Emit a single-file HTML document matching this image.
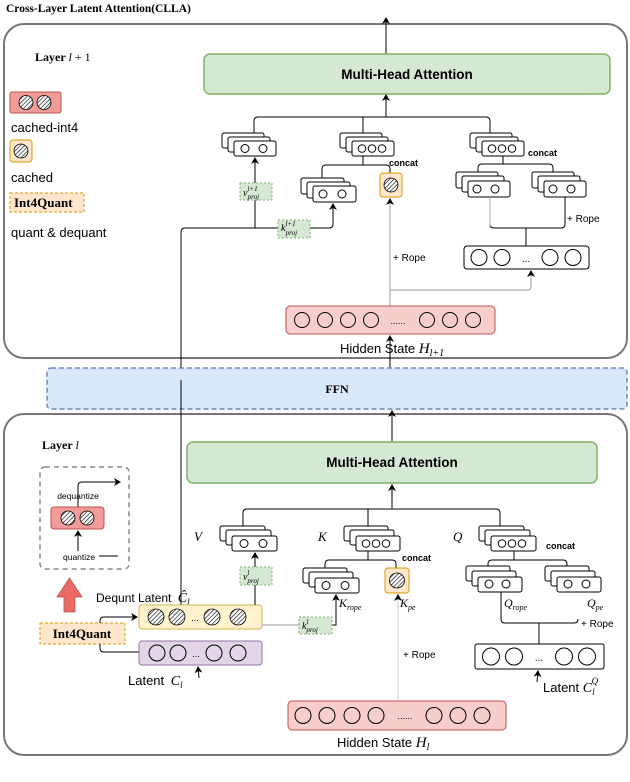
<!DOCTYPE html>
<html><head><meta charset="utf-8"><style>
html,body{margin:0;padding:0;background:#fff;}
svg{display:block;}
text{font-family:"Liberation Sans",sans-serif;}
.serif{font-family:"Liberation Serif",serif;}
</style></head><body>
<svg width="630" height="782" viewBox="0 0 630 782" xmlns="http://www.w3.org/2000/svg">
<defs>
<pattern id="h" width="3" height="3" patternUnits="userSpaceOnUse" patternTransform="rotate(45)"><rect width="3" height="3" fill="#fff"/><line x1="0" y1="0" x2="0" y2="3" stroke="#000" stroke-width="1.2"/></pattern>
<marker id="a" markerWidth="8" markerHeight="8" refX="6" refY="4" orient="auto" markerUnits="userSpaceOnUse"><path d="M0,0 L7,4 L0,8 L2,4z" fill="#000"/></marker>
</defs>

<text x="6" y="12" class="serif" font-size="11.5" font-weight="bold">Cross-Layer Latent Attention(CLLA)</text>

<!-- Top layer box -->
<rect x="4" y="24" width="623" height="334" rx="20" fill="none" stroke="#777" stroke-width="2"/>
<text x="35" y="61" class="serif" font-size="12" font-weight="bold">Layer <tspan font-style="italic" font-weight="normal">l</tspan><tspan font-weight="normal"> + 1</tspan></text>

<line x1="386" y1="54" x2="386" y2="18" stroke="#000" marker-end="url(#a)"/>
<rect x="204" y="54" width="406" height="40" rx="6" fill="#d5e8d4" stroke="#82b366" stroke-width="1.5"/>
<text x="407" y="79" font-size="13.5" font-weight="bold" text-anchor="middle">Multi-Head Attention</text>

<!-- legend -->
<rect x="10" y="92" width="51" height="21" rx="2" fill="#f19c99" stroke="#b85450"/>
<circle cx="26" cy="102.5" r="7" fill="url(#h)" stroke="#000" stroke-width=".8"/>
<circle cx="44" cy="102.5" r="7" fill="url(#h)" stroke="#000" stroke-width=".8"/>
<text x="11" y="132" font-size="13">cached-int4</text>
<rect x="10" y="140" width="22" height="22" rx="3" fill="#ffe6cc" stroke="#d79b00"/>
<circle cx="21" cy="151" r="7" fill="url(#h)" stroke="#000" stroke-width=".8"/>
<text x="11" y="182" font-size="13">cached</text>
<rect x="10" y="193" width="74" height="19" fill="#ffe6cc" stroke="#d79b00" stroke-dasharray="3,2"/>
<text x="14" y="207" class="serif" font-size="13" font-weight="bold">Int4Quant</text>
<text x="11" y="237" font-size="13">quant &amp; dequant</text>

<!-- top bus -->
<path d="M254,133 V121 Q254,117 258,117 H486 Q490,117 490,121 V133" fill="none" stroke="#000"/>
<line x1="363" y1="117" x2="363" y2="133" stroke="#000"/>
<line x1="386" y1="117" x2="386" y2="95" stroke="#000" marker-end="url(#a)"/>

<!-- top V stack -->
<g fill="#fff" stroke="#000">
<rect x="222" y="133" width="42" height="15" rx="2"/><rect x="228" y="137" width="42" height="15" rx="2"/><rect x="234" y="141" width="42" height="15" rx="2"/>
<circle cx="245" cy="148.5" r="4"/><circle cx="263" cy="148.5" r="4"/>
<!-- K -->
<rect x="340" y="133" width="42" height="15" rx="2"/><rect x="346" y="137" width="42" height="15" rx="2"/><rect x="352" y="141" width="42" height="15" rx="2"/>
<circle cx="362" cy="148.5" r="3.8"/><circle cx="372" cy="148.5" r="3.8"/><circle cx="382" cy="148.5" r="3.8"/>
<!-- Q -->
<rect x="470" y="133" width="42" height="15" rx="2"/><rect x="476" y="137" width="42" height="15" rx="2"/><rect x="482" y="141" width="42" height="15" rx="2"/>
<circle cx="492" cy="148.5" r="3.8"/><circle cx="502" cy="148.5" r="3.8"/><circle cx="512" cy="148.5" r="3.8"/>
</g>
<text x="389" y="166" font-size="9" font-weight="bold">concat</text>
<text x="528" y="156" font-size="9" font-weight="bold">concat</text>

<!-- K sub -->
<path d="M322,178 V169 Q322,165 326,165 H386 Q390,165 390,169 V173" fill="none" stroke="#000"/>
<line x1="363" y1="156" x2="363" y2="165" stroke="#000"/>
<g fill="#fff" stroke="#000">
<rect x="301" y="178" width="43" height="16" rx="2"/><rect x="307" y="182" width="43" height="16" rx="2"/><rect x="313" y="186" width="43" height="16" rx="2"/>
<circle cx="323" cy="194" r="4"/><circle cx="342" cy="194" r="4"/>
</g>
<rect x="380" y="173" width="22" height="24" rx="3" fill="#ffe6cc" stroke="#d79b00"/>
<circle cx="391" cy="185" r="7" fill="url(#h)" stroke="#000" stroke-width=".8"/>

<!-- Q sub -->
<path d="M478,172 V168 Q478,164 482,164 H549 Q553,164 553,168 V172" fill="none" stroke="#000"/>
<line x1="503" y1="156" x2="503" y2="164" stroke="#000"/>
<g fill="#fff" stroke="#000">
<rect x="456" y="172" width="42" height="16" rx="2"/><rect x="462" y="176" width="42" height="16" rx="2"/><rect x="468" y="181" width="42" height="16" rx="2"/>
<circle cx="477" cy="189" r="4"/><circle cx="495" cy="189" r="4"/>
<rect x="532" y="172" width="42" height="16" rx="2"/><rect x="538" y="176" width="42" height="16" rx="2"/><rect x="544" y="181" width="42" height="16" rx="2"/>
<circle cx="553" cy="189" r="4"/><circle cx="571" cy="189" r="4"/>
</g>
<path d="M490,197 V224 Q490,228 494,228 H561 Q565,228 565,224 V197" fill="none" stroke="#000"/>
<line x1="490" y1="197" x2="490" y2="228" stroke="#aaa"/>
<line x1="526" y1="228" x2="526" y2="246" stroke="#000"/>
<text x="567" y="222" font-size="10">+ Rope</text>
<rect x="464" y="246" width="125" height="23" rx="3" fill="#fff" stroke="#000"/>
<g fill="none" stroke="#000"><circle cx="479" cy="257.5" r="8"/><circle cx="502" cy="257.5" r="8"/><circle cx="550" cy="257.5" r="8"/><circle cx="573" cy="257.5" r="8"/></g>
<text x="526" y="262" font-size="10" text-anchor="middle">...</text>

<!-- proj lines top -->
<line x1="255" y1="228" x2="255" y2="158" stroke="#000" marker-end="url(#a)"/>
<path d="M181,382 V232 Q181,228 185,228 H329 Q333,228 333,224 V204" fill="none" stroke="#000" marker-end="url(#a)"/>
<rect x="240" y="183" width="32" height="17" fill="#d5e8d4" stroke="#82b366" stroke-dasharray="2,2"/>
<text x="243" y="196" class="serif" font-size="10" font-style="italic">v<tspan font-size="7" dy="-5">l+1</tspan><tspan font-size="7" dy="8" dx="-10">proj</tspan></text>
<rect x="278" y="220" width="32" height="18" fill="#d5e8d4" stroke="#82b366" stroke-dasharray="2,2"/>
<text x="281" y="231" class="serif" font-size="10" font-style="italic">k<tspan font-size="7" dy="-5">l+1</tspan><tspan font-size="7" dy="9" dx="-10">proj</tspan></text>

<!-- gray rope lines top -->
<line x1="390" y1="306" x2="390" y2="199" stroke="#999" marker-end="url(#a)"/>
<path d="M390,290 H527 Q531,290 531,286 V271" fill="none" stroke="#999" marker-end="url(#a)"/>
<text x="393" y="261" font-size="10">+ Rope</text>

<!-- hidden state top -->
<rect x="286" y="306" width="209" height="28" rx="4" fill="#f8cecc" stroke="#b85450"/>
<g fill="none" stroke="#000"><circle cx="302" cy="320" r="7.5"/><circle cx="325" cy="320" r="7.5"/><circle cx="348" cy="320" r="7.5"/><circle cx="371" cy="320" r="7.5"/><circle cx="427" cy="320" r="7.5"/><circle cx="450" cy="320" r="7.5"/><circle cx="473" cy="320" r="7.5"/></g>
<text x="398" y="324" font-size="9" text-anchor="middle">......</text>
<text x="340" y="353" font-size="13">Hidden State <tspan class="serif" font-style="italic" font-size="15">H</tspan><tspan class="serif" font-style="italic" font-size="10" dy="3">l+1</tspan></text>
<line x1="390" y1="368" x2="390" y2="336" stroke="#000" marker-end="url(#a)"/>

<!-- FFN -->
<rect x="47" y="368" width="580" height="41" rx="4" fill="#dae8fc" stroke="#6c8ebf" stroke-width="1.5" stroke-dasharray="5,3"/>
<text x="337" y="393" class="serif" font-size="12" font-weight="bold" text-anchor="middle">FFN</text>

<!-- bottom layer -->
<rect x="4" y="414" width="623" height="341" rx="20" fill="none" stroke="#777" stroke-width="2"/>
<line x1="181" y1="380" x2="181" y2="617" stroke="#000"/>
<line x1="392" y1="442" x2="392" y2="411" stroke="#000" marker-end="url(#a)"/>
<text x="42" y="449" class="serif" font-size="12" font-weight="bold">Layer <tspan font-style="italic" font-weight="normal">l</tspan></text>
<rect x="187" y="442" width="410" height="41" rx="6" fill="#d5e8d4" stroke="#82b366" stroke-width="1.5"/>
<text x="392" y="467" font-size="13.5" font-weight="bold" text-anchor="middle">Multi-Head Attention</text>

<path d="M243,526 V513 Q243,509 247,509 H496 Q500,509 500,513 V526" fill="none" stroke="#000"/>
<line x1="368" y1="509" x2="368" y2="526" stroke="#000"/>
<line x1="392" y1="509" x2="392" y2="485" stroke="#000" marker-end="url(#a)"/>

<text x="194" y="541" class="serif" font-size="13" font-style="italic">V</text>
<text x="318" y="541" class="serif" font-size="13" font-style="italic">K</text>
<text x="453" y="541" class="serif" font-size="13" font-style="italic">Q</text>
<g fill="#fff" stroke="#000">
<rect x="220" y="526" width="45" height="15" rx="2"/><rect x="226" y="530" width="45" height="15" rx="2"/><rect x="232" y="536" width="45" height="15" rx="2"/>
<circle cx="244" cy="543.5" r="4"/><circle cx="263" cy="543.5" r="4"/>
<rect x="344" y="526" width="44" height="15" rx="2"/><rect x="350" y="530" width="44" height="15" rx="2"/><rect x="356" y="536" width="44" height="15" rx="2"/>
<circle cx="366" cy="543.5" r="3.8"/><circle cx="376" cy="543.5" r="3.8"/><circle cx="386" cy="543.5" r="3.8"/>
<rect x="479" y="526" width="45" height="15" rx="2"/><rect x="485" y="530" width="45" height="15" rx="2"/><rect x="491" y="536" width="45" height="15" rx="2"/>
<circle cx="502" cy="543.5" r="3.8"/><circle cx="512" cy="543.5" r="3.8"/><circle cx="522" cy="543.5" r="3.8"/>
</g>
<text x="402" y="561" font-size="9" font-weight="bold">concat</text>
<text x="546" y="549" font-size="9" font-weight="bold">concat</text>

<!-- K sub bottom -->
<path d="M325,568 V564 Q325,560 329,560 H392 Q396,560 396,564 V568" fill="none" stroke="#000"/>
<line x1="368" y1="551" x2="368" y2="560" stroke="#000"/>
<g fill="#fff" stroke="#000">
<rect x="303" y="568" width="44" height="15" rx="2"/><rect x="309" y="572" width="44" height="15" rx="2"/><rect x="315" y="578" width="44" height="15" rx="2"/>
<circle cx="326" cy="585.5" r="4"/><circle cx="345" cy="585.5" r="4"/>
</g>
<rect x="385" y="568" width="24" height="25" rx="3" fill="#ffe6cc" stroke="#d79b00"/>
<circle cx="397" cy="580.5" r="7.5" fill="url(#h)" stroke="#000" stroke-width=".8"/>
<text x="339" y="607" class="serif" font-size="12" font-style="italic">K<tspan font-size="8" dy="3">rope</tspan></text>
<text x="400" y="607" class="serif" font-size="12" font-style="italic">K<tspan font-size="8" dy="3">pe</tspan></text>

<!-- Q sub bottom -->
<path d="M488,566 V564 Q488,560 492,560 H563 Q567,560 567,564 V566" fill="none" stroke="#000"/>
<line x1="514" y1="551" x2="514" y2="560" stroke="#000"/>
<g fill="#fff" stroke="#000">
<rect x="466" y="566" width="44" height="15" rx="2"/><rect x="472" y="571" width="44" height="15" rx="2"/><rect x="478" y="577" width="44" height="15" rx="2"/>
<circle cx="489" cy="584" r="4"/><circle cx="506" cy="584" r="4"/>
<rect x="545" y="566" width="44" height="15" rx="2"/><rect x="551" y="571" width="44" height="15" rx="2"/><rect x="557" y="577" width="44" height="15" rx="2"/>
<circle cx="568" cy="584" r="4"/><circle cx="586" cy="584" r="4"/>
</g>
<text x="504" y="607" class="serif" font-size="12" font-style="italic">Q<tspan font-size="8" dy="3">rope</tspan></text>
<text x="587" y="607" class="serif" font-size="12" font-style="italic">Q<tspan font-size="8" dy="3">pe</tspan></text>
<path d="M501,592 V619 Q501,623 505,623 H574 Q578,623 578,619" fill="none" stroke="#000"/>
<line x1="539" y1="623" x2="539" y2="644" stroke="#000"/>
<text x="581" y="627" font-size="10">+ Rope</text>
<rect x="475" y="644" width="129" height="25" rx="2" fill="#fff" stroke="#000"/>
<g fill="none" stroke="#000"><circle cx="491" cy="656.5" r="8.5"/><circle cx="514" cy="656.5" r="8.5"/><circle cx="564" cy="656.5" r="8.5"/><circle cx="587" cy="656.5" r="8.5"/></g>
<text x="539" y="661" font-size="10" text-anchor="middle">...</text>
<line x1="537" y1="682" x2="538" y2="671" stroke="#000" marker-end="url(#a)"/>
<text x="543" y="692" font-size="13">Latent <tspan class="serif" font-style="italic" font-size="14">C</tspan><tspan class="serif" font-style="italic" font-size="9" dy="3">l</tspan><tspan class="serif" font-style="italic" font-size="9" dy="-11" dx="-3">Q</tspan></text>

<!-- left quant box -->
<rect x="40" y="467" width="89" height="102" rx="5" fill="none" stroke="#888" stroke-width="1.5" stroke-dasharray="5,4"/>
<path d="M78,507 V486 Q78,482 82,482 H120" fill="none" stroke="#000" marker-end="url(#a)"/>
<text x="78" y="499" font-size="8.5" text-anchor="middle">dequantize</text>
<rect x="51" y="507" width="53" height="22" rx="3" fill="#f19c99" stroke="#b85450"/>
<circle cx="68" cy="518" r="7" fill="url(#h)" stroke="#000" stroke-width=".8"/>
<circle cx="87" cy="518" r="7" fill="url(#h)" stroke="#000" stroke-width=".8"/>
<line x1="78" y1="551" x2="78" y2="531" stroke="#000" marker-end="url(#a)"/>
<text x="63" y="560" font-size="8.5">quantize</text>
<line x1="99" y1="556" x2="118" y2="556" stroke="#000"/>
<path d="M64,612 V597 H57 L69.5,578 L82,597 H75 V612z" fill="#ea6b66" stroke="#b85450" stroke-width=".8"/>

<rect x="40" y="623" width="85" height="21" fill="#ffe6cc" stroke="#d79b00" stroke-dasharray="3,2"/>
<text x="82" y="638" class="serif" font-size="13" font-weight="bold" text-anchor="middle">Int4Quant</text>
<path d="M100,623 V621 Q100,617 104,617 H137" fill="none" stroke="#000" marker-end="url(#a)"/>
<path d="M139,652 H104 Q100,652 100,648 V644" fill="none" stroke="#000"/>

<text x="96" y="602" font-size="12">Dequnt Latent <tspan class="serif" font-style="italic" font-size="14" dx="3">Ĉ</tspan><tspan class="serif" font-style="italic" font-size="9" dy="3">l</tspan></text>
<rect x="139" y="605" width="123" height="24" rx="3" fill="#fff2cc" stroke="#d6b656"/>
<g stroke="#000" stroke-width=".8" fill="url(#h)"><circle cx="156" cy="617" r="8"/><circle cx="177" cy="617" r="8"/><circle cx="212" cy="617" r="8"/><circle cx="238" cy="617" r="8"/></g>
<text x="195" y="621" font-size="9" text-anchor="middle">...</text>
<rect x="139" y="641" width="123" height="24" rx="3" fill="#e1d5e7" stroke="#9673a6"/>
<g stroke="#000" fill="none"><circle cx="157" cy="653" r="8"/><circle cx="178" cy="653" r="8"/><circle cx="214" cy="653" r="8"/><circle cx="238" cy="653" r="8"/></g>
<text x="196" y="657" font-size="9" text-anchor="middle">...</text>
<text x="128" y="685" font-size="13">Latent <tspan class="serif" font-style="italic" font-size="14" dx="3">C</tspan><tspan class="serif" font-style="italic" font-size="9" dy="3">l</tspan></text>
<line x1="199" y1="678" x2="198" y2="667" stroke="#000" marker-end="url(#a)"/>

<!-- proj bottom -->
<line x1="255" y1="605" x2="255" y2="553" stroke="#000" marker-end="url(#a)"/>
<rect x="240" y="567" width="32" height="18" fill="#d5e8d4" stroke="#82b366" stroke-dasharray="2,2"/>
<text x="243" y="580" class="serif" font-size="10" font-style="italic">v<tspan font-size="7" dy="-5">l</tspan><tspan font-size="7" dy="8" dx="-2">proj</tspan></text>
<line x1="262" y1="625" x2="299" y2="625" stroke="#999"/>
<path d="M332,625 H336 V595" fill="none" stroke="#000" marker-end="url(#a)"/>
<rect x="299" y="617" width="33" height="17" fill="#d5e8d4" stroke="#82b366" stroke-dasharray="2,2"/>
<text x="302" y="629" class="serif" font-size="10" font-style="italic">k<tspan font-size="7" dy="-5">l</tspan><tspan font-size="7" dy="8" dx="-2">proj</tspan></text>

<line x1="398" y1="701" x2="398" y2="595" stroke="#ccc" marker-end="url(#a)"/>
<text x="403" y="658" font-size="10">+ Rope</text>

<rect x="288" y="701" width="218" height="29" rx="4" fill="#f8cecc" stroke="#b85450"/>
<g fill="none" stroke="#000"><circle cx="303" cy="715.5" r="8"/><circle cx="327" cy="715.5" r="8"/><circle cx="352" cy="715.5" r="8"/><circle cx="376" cy="715.5" r="8"/><circle cx="434" cy="715.5" r="8"/><circle cx="458" cy="715.5" r="8"/><circle cx="482" cy="715.5" r="8"/></g>
<text x="405" y="719" font-size="9" text-anchor="middle">......</text>
<text x="337" y="747" font-size="13">Hidden State <tspan class="serif" font-style="italic" font-size="15">H</tspan><tspan class="serif" font-style="italic" font-size="10" dy="3">l</tspan></text>
</svg>
</body></html>
